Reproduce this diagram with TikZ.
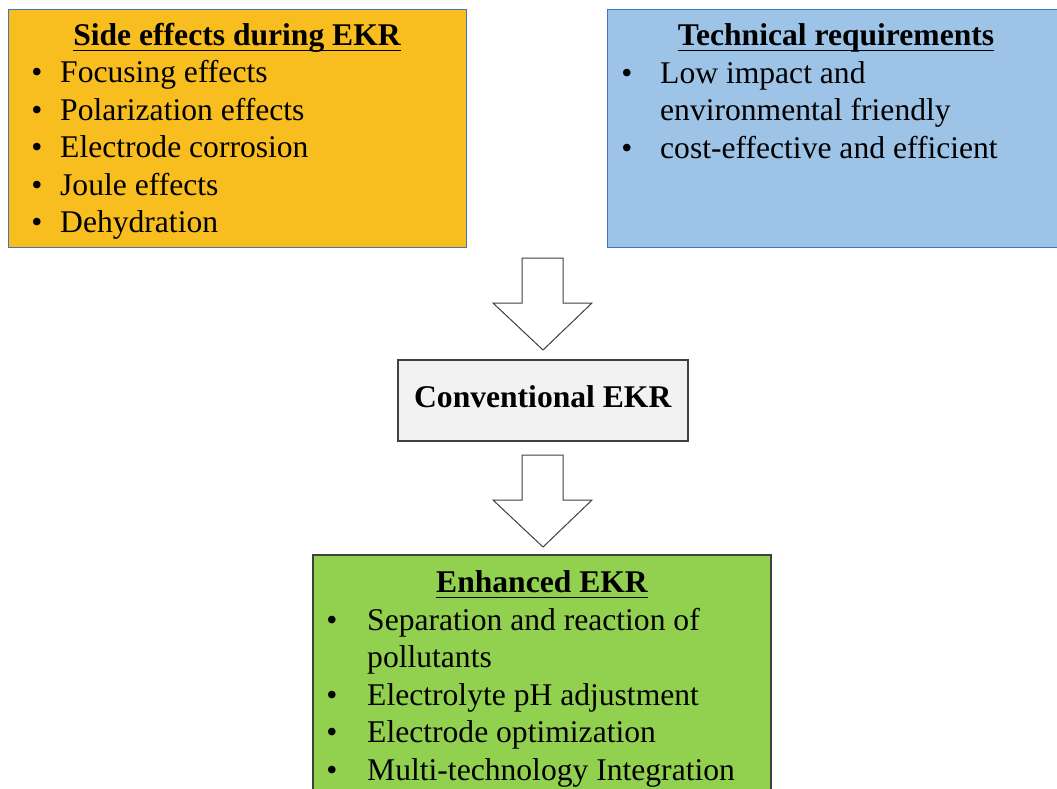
\documentclass[tikz,border=0pt]{standalone}
\usepackage{fontspec}
\setmainfont{Liberation Serif}
\definecolor{sideorange}{RGB}{248,189,30}
\definecolor{techblue}{RGB}{157,195,230}
\definecolor{enhgreen}{RGB}{146,208,80}
\definecolor{convgrey}{RGB}{242,242,242}
\definecolor{edgeblue}{RGB}{68,114,196}
\definecolor{edgegrey}{RGB}{64,64,64}
\tikzset{
  panel/.style={anchor=north west, line width=1pt},
  head/.style={anchor=base, font=\fontsize{31.6}{37.5}\selectfont\bfseries},
  item/.style={anchor=base west},
  dot/.style={anchor=base},
  uline/.style={line width=1.8pt},
  hollow/.style={draw=edgegrey, fill=white, line width=1pt, line join=miter}
}
\begin{document}
\begin{tikzpicture}[x=1pt,y=-1pt,
  every node/.style={font=\fontsize{31.6}{37.5}\selectfont, inner sep=0pt}]
\clip (0,0) rectangle (1057,788);
\fill[white] (0,0) rectangle (1057,788);

% boxes
\node[panel, draw=edgeblue, fill=sideorange, minimum width=458pt, minimum height=238pt] (side) at (8,8.5) {};
\node[panel, draw=edgeblue, fill=techblue, minimum width=460pt, minimum height=238pt] (tech) at (606.5,8.5) {};
\node[panel, draw=edgegrey, fill=convgrey, line width=1.5pt, minimum width=290pt, minimum height=81pt,
  text height=15pt, text depth=0pt, font=\fontsize{31.6}{37.5}\selectfont\bfseries] (conv) at (397,359) {Conventional EKR};
\node[panel, draw=edgegrey, fill=enhgreen, line width=1.5pt, minimum width=458pt, minimum height=260pt] (enh) at (312,554) {};

% side effects
\node[head] (sidehead) at (237,45) {Side effects during EKR};
\draw[uline] ([yshift=-5.5pt]sidehead.base west) -- ([yshift=-5.5pt]sidehead.base east);
\foreach \t [count=\i] in {Focusing effects, Polarization effects, Electrode corrosion, Joule effects, Dehydration} {
  \node[dot] (sidedot\i) at (37,{45+37.5*\i}) {\textbullet};
  \node[item] (side\i) at (60,{45+37.5*\i}) {\t};
}

% technical requirements
\node[head] (techhead) at (836,45) {Technical requirements};
\draw[uline] ([yshift=-5.5pt]techhead.base west) -- ([yshift=-5.5pt]techhead.base east);
\node[dot] (techdot1) at (627,83) {\textbullet};
\node[item] (tech1) at (660,83) {Low impact and};
\node[item] (tech1b) at (660,120.5) {environmental friendly};
\node[dot] (techdot2) at (627,158) {\textbullet};
\node[item] (tech2) at (660,158) {cost-effective and efficient};

% arrows
\draw[hollow] (522,258) -- (563,258) -- (563,303) -- (592,303) -- (543,350) -- (493,303) -- (522,303) -- cycle;
\draw[hollow] (522,455) -- (563,455) -- (563,500) -- (592,500) -- (543,547) -- (493,500) -- (522,500) -- cycle;

% enhanced EKR
\node[head] (enhhead) at (542,592) {Enhanced EKR};
\draw[uline] ([yshift=-5.5pt]enhhead.base west) -- ([yshift=-5.5pt]enhhead.base east);
\node[dot] (enhdot1) at (332,630) {\textbullet};
\node[item] (enh1) at (367,630) {Separation and reaction of};
\node[item] (enh1b) at (367,667.5) {pollutants};
\node[dot] (enhdot2) at (332,705) {\textbullet};
\node[item] (enh2) at (367,705) {Electrolyte pH adjustment};
\node[dot] (enhdot3) at (332,742.5) {\textbullet};
\node[item] (enh3) at (367,742.5) {Electrode optimization};
\node[dot] (enhdot4) at (332,780) {\textbullet};
\node[item] (enh4) at (367,780) {Multi-technology Integration};
\end{tikzpicture}
\end{document}
